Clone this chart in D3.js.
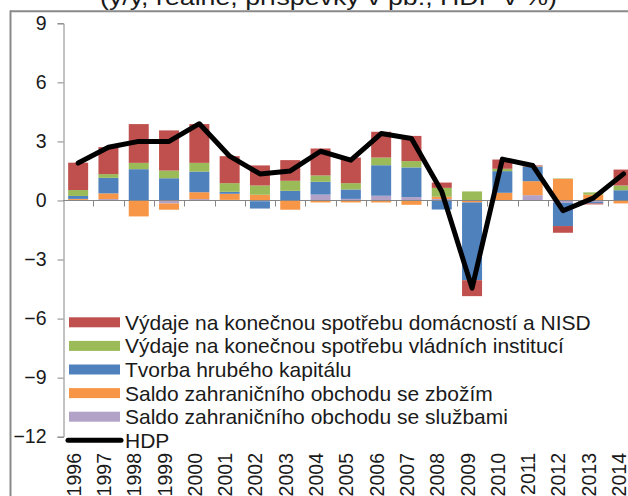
<!DOCTYPE html>
<html>
<head>
<meta charset="utf-8">
<script src="https://cdn.jsdelivr.net/npm/d3@7"></script>
<style>
  html, body { margin: 0; padding: 0; background: #fff; overflow: hidden; }
  svg { display: block; font-family: "Liberation Sans", Arial, sans-serif; }
</style>
</head>
<body>
<svg id="chart" width="628" height="496"></svg>
<script>
// ---- data ----
const years = ["1996","1997","1998","1999","2000","2001","2002","2003","2004","2005","2006","2007","2008","2009","2010","2011","2012","2013","2014"];
const services   = [0.03, 0.07, 0.00, -0.15, 0.07, 0.03, -0.04, 0.00, 0.30, 0.08, 0.24, 0.17, 0.08, 0.00, 0.00, 0.27, -0.12, -0.08, 0.00];
const goods      = [0.05, 0.29, -0.81, -0.32, 0.35, 0.31, 0.29, -0.47, -0.10, -0.10, -0.10, -0.22, 0.11, -0.10, 0.39, 0.71, 1.10, 0.30, -0.15];
const capital    = [0.15, 0.79, 1.59, 1.13, 1.05, 0.10, -0.37, 0.49, 0.65, 0.48, 1.55, 1.51, -0.46, -3.95, 1.10, 0.73, -1.18, -0.07, 0.52];
const government = [0.30, 0.19, 0.32, 0.39, 0.44, 0.44, 0.47, 0.51, 0.32, 0.32, 0.39, 0.32, 0.45, 0.46, 0.12, 0.02, 0.02, 0.11, 0.24];
const households = [1.39, 1.37, 1.97, 2.04, 1.97, 1.37, 1.02, 1.05, 1.37, 1.30, 1.31, 1.28, 0.27, -0.81, 0.47, 0.05, -0.34, -0.05, 0.81];
const gdp        = [1.90, 2.70, 3.00, 3.00, 3.90, 2.25, 1.35, 1.50, 2.50, 2.05, 3.40, 3.15, 0.45, -4.45, 2.10, 1.78, -0.52, 0.12, 1.35];
const yTicks = [9, 6, 3, 0, -3, -6, -9, -12];
const titleText = "(y/y, reálně, příspěvky v pb., HDP v %)";

// series in stacking order (bottom first); legend lists them reversed
const seriesDefs = [
  { key: "services",   name: "Saldo zahraničního obchodu se službami", values: services,   color: "#B3A2C7" },
  { key: "goods",      name: "Saldo zahraničního obchodu se zbožím",   values: goods,      color: "#F79646" },
  { key: "capital",    name: "Tvorba hrubého kapitálu",                 values: capital,    color: "#4F81BD" },
  { key: "government", name: "Výdaje na konečnou spotřebu vládních institucí", values: government, color: "#9BBB59" },
  { key: "households", name: "Výdaje na konečnou spotřebu domácností a NISD",  values: households, color: "#C0504D" }
];
const gdpName = "HDP";

// ---- layout ----
const svg = d3.select("#chart");
const axisColor = "#868686";
const textColor = "#1a1a1a";
const x0 = 63, step = 30.3;
const x = d3.scaleBand().domain(years).range([x0, x0 + step * years.length]).paddingInner(0.34).paddingOuter(0.17);
const y = d3.scaleLinear().domain([-12, 9]).range([436.7, 23.3]);

// frame
svg.append("line").attr("x1", 10.5).attr("x2", 10.5).attr("y1", 10.5).attr("y2", 496).attr("stroke", "#8a8a8a").attr("stroke-width", 2);
svg.append("line").attr("x1", 10).attr("x2", 628).attr("y1", 11.2).attr("y2", 11.2).attr("stroke", "#8a8a8a").attr("stroke-width", 2);

// title (only lower part visible)
svg.append("text")
  .attr("x", 100).attr("y", 5)
  .attr("textLength", 457).attr("lengthAdjust", "spacingAndGlyphs")
  .attr("font-size", 22).attr("fill", textColor)
  .text(titleText);

// stacked data
const table = years.map((yr, i) => {
  const row = { year: yr };
  seriesDefs.forEach(s => row[s.key] = s.values[i]);
  return row;
});
const stack = d3.stack().keys(seriesDefs.map(s => s.key)).offset(d3.stackOffsetDiverging);
const stacked = stack(table);

const gBars = svg.append("g");
stacked.forEach((layer, li) => {
  gBars.append("g").attr("fill", seriesDefs[li].color)
    .selectAll("rect").data(layer).join("rect")
    .attr("x", d => x(d.data.year))
    .attr("width", x.bandwidth())
    .attr("y", d => y(Math.max(d[0], d[1])))
    .attr("height", d => Math.abs(y(d[0]) - y(d[1])));
});

// y axis
const yAxis = d3.axisLeft(y).tickValues(yTicks).tickSize(6).tickPadding(11).tickFormat(d3.format("d"));
const gy = svg.append("g").attr("transform", `translate(${x0 + 0.5},0)`).call(yAxis);
gy.select(".domain").attr("stroke", axisColor);
gy.selectAll(".tick line").attr("stroke", axisColor);
gy.selectAll(".tick text").attr("font-size", 19.5).attr("fill", textColor).attr("font-family", "Liberation Sans, Arial, sans-serif");

// x axis at zero with downward ticks at category boundaries
const zeroY = Math.round(y(0)) + 0.5;
svg.append("line").attr("x1", x0).attr("x2", 628).attr("y1", zeroY).attr("y2", zeroY).attr("stroke", axisColor);
svg.append("g").selectAll("line").data(years).join("line")
  .attr("x1", d => Math.round(x(d) - x.step() * x.paddingInner() / 2 + x.step()) + 0.5)
  .attr("x2", d => Math.round(x(d) - x.step() * x.paddingInner() / 2 + x.step()) + 0.5)
  .attr("y1", zeroY).attr("y2", zeroY + 6)
  .attr("stroke", axisColor);

// year labels at bottom, rotated
svg.append("g").selectAll("text").data(years).join("text")
  .attr("transform", d => `translate(${x(d) + x.bandwidth() / 2 + 2.5},453) rotate(-90)`)
  .attr("text-anchor", "end")
  .attr("font-size", 19.5).attr("fill", textColor)
  .text(d => d);

// GDP line
const line = d3.line().x((d, i) => x(years[i]) + x.bandwidth() / 2).y(d => y(d));
svg.append("path").datum(gdp).attr("d", line)
  .attr("fill", "none").attr("stroke", "#000").attr("stroke-width", 5)
  .attr("stroke-linejoin", "round").attr("stroke-linecap", "round");

// legend
const legendItems = seriesDefs.slice().reverse().map(s => ({ name: s.name, color: s.color, type: "rect" }));
legendItems.push({ name: gdpName, color: "#000", type: "line" });
const lg = svg.append("g");
legendItems.forEach((it, i) => {
  const cy = 322.3 + i * 23.6;
  if (it.type === "rect") {
    lg.append("rect").attr("x", 69).attr("y", cy - 5).attr("width", 51).attr("height", 10).attr("fill", it.color);
  } else {
    lg.append("line").attr("x1", 68).attr("x2", 121).attr("y1", cy).attr("y2", cy)
      .attr("stroke", it.color).attr("stroke-width", 5).attr("stroke-linecap", "round");
  }
  lg.append("text").attr("x", 125).attr("y", cy + 7.5)
    .attr("font-size", 21).attr("fill", textColor).text(it.name);
});
</script>
</body>
</html>
